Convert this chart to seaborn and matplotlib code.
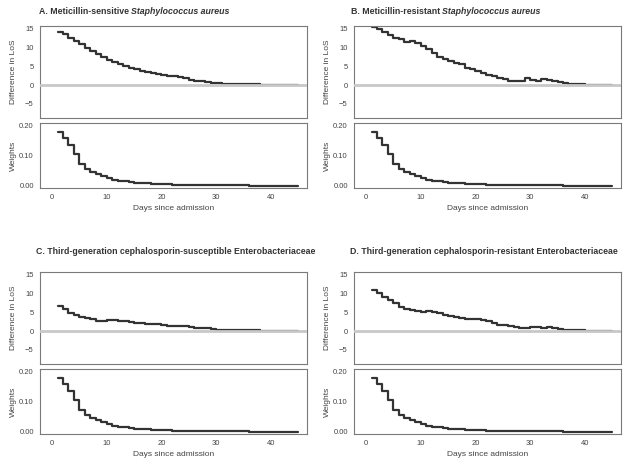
import matplotlib
matplotlib.use("Agg")
import matplotlib.pyplot as plt
import matplotlib.ticker as ticker
import seaborn as sns
import pandas as pd

sns.set_style("white")
plt.rcParams["font.family"] = ["Liberation Sans", "DejaVu Sans"]

days = list(range(1, 46))

# weights of each day (same shape in all four panels)
weights = [0.178, 0.157, 0.134, 0.106, 0.072, 0.056, 0.047, 0.038, 0.031, 0.025,
           0.020, 0.017, 0.015, 0.013, 0.011, 0.009, 0.008, 0.007, 0.006, 0.005,
           0.005, 0.004, 0.004, 0.004, 0.003, 0.003, 0.003, 0.003, 0.002, 0.002,
           0.002, 0.002, 0.002, 0.002, 0.002, 0.001, 0.001, 0.001, 0.001, 0.001,
           0.001, 0.001, 0.001, 0.001, 0.001]

diff_mssa = [14.1, 13.6, 12.7, 11.8, 10.9, 10.0, 9.1, 8.3, 7.5, 6.8,
             6.1, 5.6, 5.1, 4.6, 4.2, 3.8, 3.5, 3.2, 2.9, 2.6,
             2.4, 2.3, 2.1, 2.0, 1.4, 1.2, 1.0, 0.8, 0.6, 0.5,
             0.4, 0.3, 0.3, 0.2, 0.2, 0.2, 0.2, 0.1, 0.1, 0.0,
             0.0, -0.1, -0.1, -0.1, -0.1]

diff_mrsa = [15.4, 15.1, 14.2, 13.3, 12.6, 12.2, 11.6, 11.8, 11.2, 10.5,
             9.6, 8.7, 7.6, 6.9, 6.5, 5.9, 5.6, 4.7, 4.3, 3.7,
             3.2, 2.8, 2.3, 1.9, 1.6, 1.2, 1.0, 1.2, 2.0, 1.3,
             1.2, 1.5, 1.3, 1.0, 0.7, 0.5, 0.3, 0.2, 0.2, 0.1,
             0.1, 0.0, 0.0, -0.1, -0.1]

diff_3gcs = [6.7, 5.8, 4.9, 4.2, 3.9, 3.6, 3.2, 2.8, 2.8, 2.9,
             3.0, 2.8, 2.6, 2.4, 2.2, 2.1, 2.0, 1.9, 1.8, 1.5,
             1.3, 1.3, 1.3, 1.3, 1.0, 0.8, 0.7, 0.7, 0.5, 0.4,
             0.4, 0.4, 0.4, 0.3, 0.3, 0.2, 0.2, 0.1, 0.1, 0.1,
             0.0, 0.0, 0.0, -0.1, -0.1]

diff_3gcr = [11.1, 10.2, 9.2, 8.2, 7.4, 6.5, 6.0, 5.6, 5.5, 5.1,
             5.4, 5.0, 4.9, 4.4, 4.1, 3.8, 3.4, 3.3, 3.2, 3.1,
             3.0, 2.6, 2.1, 1.5, 1.5, 1.3, 1.1, 0.9, 0.8, 1.1,
             1.0, 0.9, 1.0, 0.8, 0.5, 0.4, 0.3, 0.2, 0.2, 0.1,
             0.1, 0.0, 0.0, -0.1, -0.1]

titles = [("A. Meticillin-sensitive ", "Staphylococcus aureus"),
          ("B. Meticillin-resistant ", "Staphylococcus aureus"),
          ("C. Third-generation cephalosporin-susceptible Enterobacteriaceae", ""),
          ("D. Third-generation cephalosporin-resistant Enterobacteriaceae", "")]
diffs = [diff_mssa, diff_mrsa, diff_3gcs, diff_3gcr]

W, H = 630, 467
fig = plt.figure(figsize=(W / 100, H / 100), dpi=100)
renderer = fig.canvas.get_renderer()

lefts = [40, 354, 40, 354]
tops = [26, 26, 272, 272]
title_x = [39, 351, 36, 350]
title_y = [12, 12, 252, 252]

line_col = "#333333"
spine_col = "#7a7a7a"
text_col = "#444444"

# title size: fit the longest title (D) to about 268 px like the reference
probe = fig.text(0, 0, titles[3][0], fontsize=7, fontweight="bold")
title_fs = 7 * 268 / probe.get_window_extent(renderer=renderer).width
probe.remove()


def px_axes(left, top, width, height):
    return fig.add_axes([left / W, 1 - (top + height) / H, width / W, height / H])


def style(ax):
    for s in ax.spines.values():
        s.set_color(spine_col)
        s.set_linewidth(0.8)
    ax.tick_params(axis="both", which="both", direction="out", length=2.5, width=0.6,
                   color=spine_col, labelsize=5.5, labelcolor=text_col, pad=2)
    ax.set_xlim(-2.2, 46.6)


for i in range(4):
    left, top = lefts[i], tops[i]
    df = pd.DataFrame({"day": days, "diff": diffs[i], "w": weights})

    ax1 = px_axes(left, top, 267, 92)
    sns.lineplot(data=df, x="day", y="diff", ax=ax1, drawstyle="steps-post",
                 color=line_col, lw=1.6, zorder=2)
    ax1.axhline(0, color="#c8c8c8", lw=2.0, zorder=3)
    style(ax1)
    ax1.set_ylim(-8.8, 15.8)
    ax1.set_yticks([-5, 0, 5, 10, 15])
    ax1.set_xticks([])
    ax1.set_xlabel("")
    ax1.set_ylabel("Difference in LoS", fontsize=6, color=text_col)
    ax1.yaxis.set_label_coords(-0.088, 0.5)

    ax2 = px_axes(left, top + 97, 267, 65)
    sns.lineplot(data=df, x="day", y="w", ax=ax2, drawstyle="steps-post",
                 color=line_col, lw=1.6)
    style(ax2)
    ax2.set_ylim(-0.007, 0.207)
    ax2.set_yticks([0.0, 0.1, 0.2])
    ax2.yaxis.set_minor_locator(ticker.FixedLocator([0.05, 0.15]))
    ax2.yaxis.set_major_formatter(ticker.FormatStrFormatter("%.2f"))
    ax2.set_xticks([0, 10, 20, 30, 40])
    ax2.set_xlabel("Days since admission", fontsize=6, color=text_col, labelpad=3)
    ax2.set_ylabel("Weights", fontsize=6, color=text_col)
    ax2.yaxis.set_label_coords(-0.088, 0.5)

    # panel title, second part in italics
    t1 = fig.text(title_x[i] / W, 1 - title_y[i] / H, titles[i][0], fontsize=title_fs,
                  fontweight="bold", color="#333333", ha="left", va="center")
    if titles[i][1]:
        bb = t1.get_window_extent(renderer=renderer)
        fig.text(bb.x1 / W, 1 - title_y[i] / H, titles[i][1], fontsize=title_fs,
                 fontweight="bold", fontstyle="italic", color="#333333",
                 ha="left", va="center")

fig.savefig("out.png", dpi=100)
